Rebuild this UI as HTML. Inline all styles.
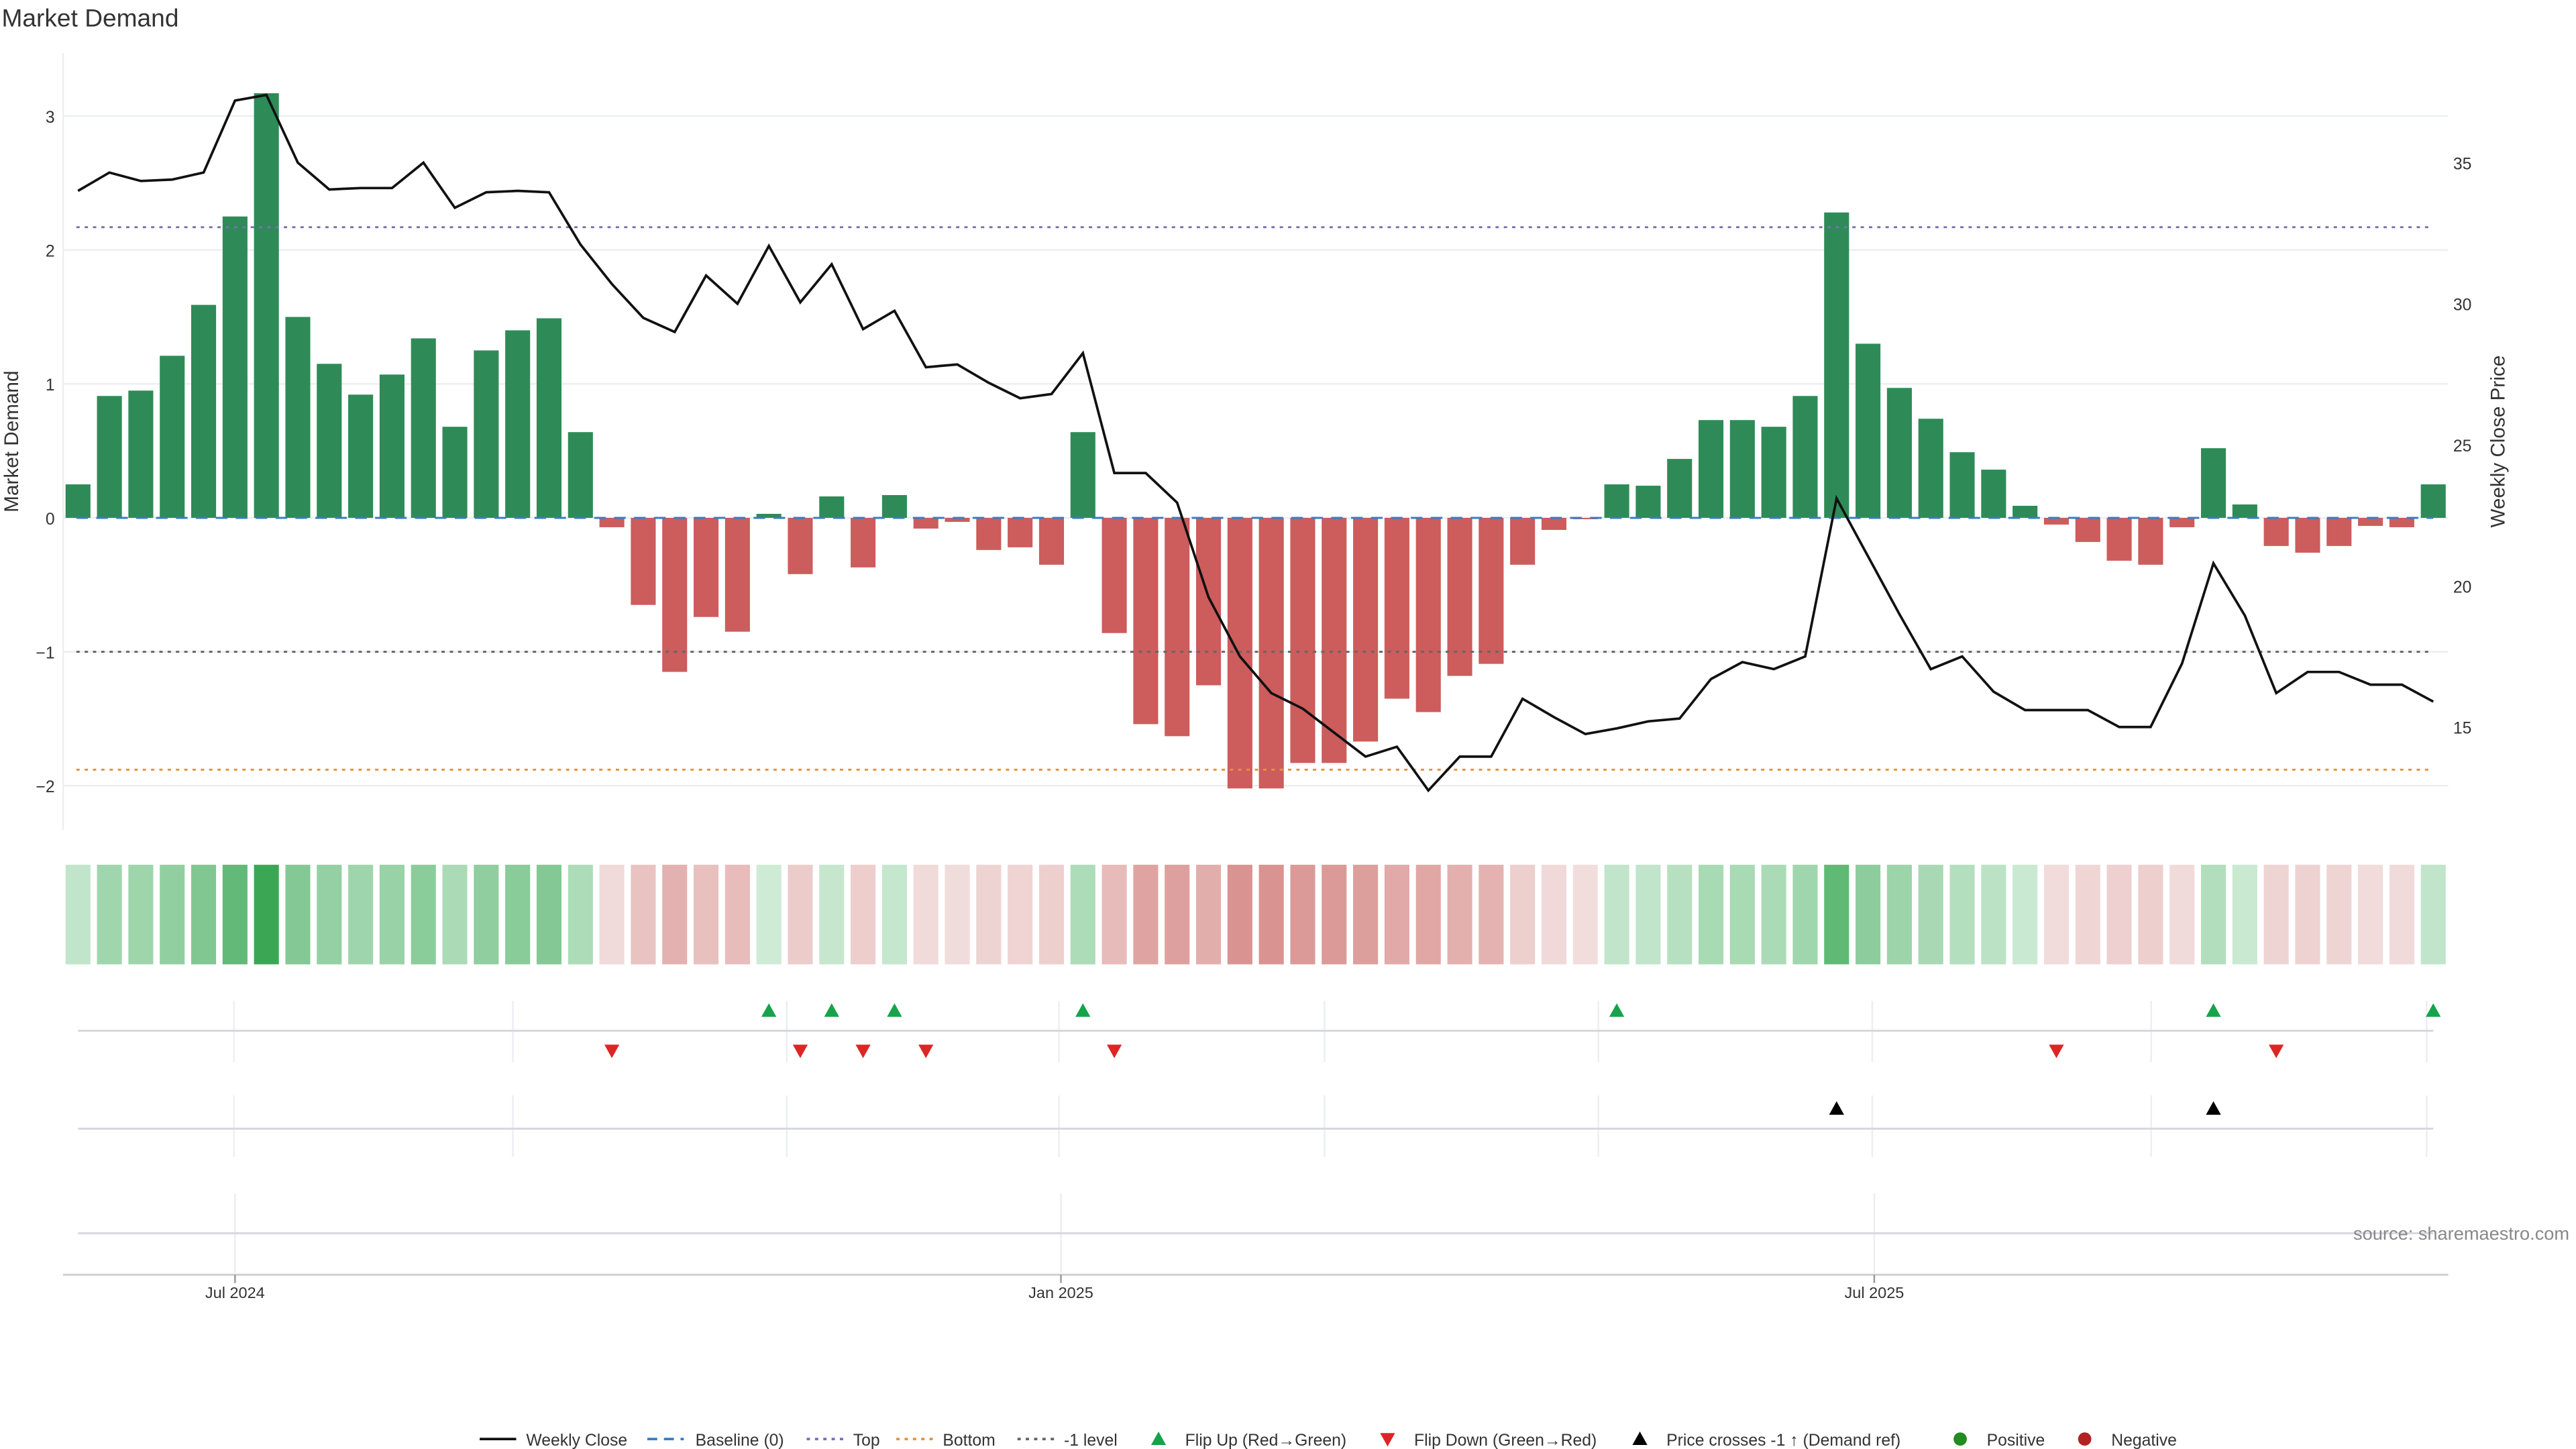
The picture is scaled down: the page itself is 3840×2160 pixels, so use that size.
<!DOCTYPE html>
<html><head><meta charset="utf-8"><style>
html,body{margin:0;padding:0;background:#fff;width:3840px;height:2160px;overflow:hidden}
svg{display:block;font-family:"Liberation Sans","DejaVu Sans",sans-serif}
</style></head><body>
<svg id="chart" width="3840" height="2160" viewBox="0 0 1552 873" xmlns="http://www.w3.org/2000/svg">
<text x="1" y="16" font-size="15" fill="#333">Market Demand</text>
<g id="g"></g>
</svg>
<script>
const demand=[0.25,0.91,0.95,1.21,1.59,2.25,3.17,1.50,1.15,0.92,1.07,1.34,0.68,1.25,1.40,1.49,0.64,-0.07,-0.65,-1.15,-0.74,-0.85,0.03,-0.42,0.16,-0.37,0.17,-0.08,-0.03,-0.24,-0.22,-0.35,0.64,-0.86,-1.54,-1.63,-1.25,-2.02,-2.02,-1.83,-1.83,-1.67,-1.35,-1.45,-1.18,-1.09,-0.35,-0.09,-0.01,0.25,0.24,0.44,0.73,0.73,0.68,0.91,2.28,1.30,0.97,0.74,0.49,0.36,0.09,-0.05,-0.18,-0.32,-0.35,-0.07,0.52,0.10,-0.21,-0.26,-0.21,-0.06,-0.07,0.25];
const price=[34.0,34.65,34.35,34.4,34.65,37.2,37.4,35.0,34.05,34.1,34.1,35.0,33.4,33.95,34.0,33.95,32.1,30.7,29.5,29.0,31.0,30.0,32.05,30.05,31.4,29.1,29.75,27.75,27.85,27.2,26.65,26.8,28.25,24.0,24.0,22.95,19.6,17.5,16.2,15.65,14.8,13.95,14.3,12.75,13.95,13.95,16.0,15.35,14.75,14.95,15.2,15.3,16.7,17.3,17.05,17.5,23.1,21.05,19.0,17.05,17.5,16.25,15.6,15.6,15.6,15.0,15.0,17.25,20.8,18.95,16.2,16.95,16.95,16.5,16.5,15.9];
const crossIdx=[56,68];
const leftTicks=[-2,-1,0,1,2,3];
const rightTicks=[15,20,25,30,35];
const refTop=2.17, refBottom=-1.88, refMinus1=-1;
const dateTicks=[{i:5.0,l:"Jul 2024"},{i:31.3,l:"Jan 2025"},{i:57.2,l:"Jul 2025"}];

const NS="http://www.w3.org/2000/svg", g=document.getElementById('g');
function mk(t,a,p){const e=document.createElementNS(NS,t);for(const k in a)e.setAttribute(k,a[k]);(p||g).appendChild(e);return e;}
const X=i=>47+i*18.92, Y=v=>312-v*80.7, YR=p=>98+(35-p)*17;
const L=38,R=1475;
// gridlines
leftTicks.forEach(t=>{
 const l=mk('line',{x1:L,x2:R,y1:Y(t),y2:Y(t),stroke:'#eceef2','stroke-width':1});
 
 const tx=mk('text',{x:33,y:Y(t)+4,'font-size':10,fill:'#333','text-anchor':'end'});tx.textContent=t<0?'\u2212'+(-t):t;
 
});
rightTicks.forEach(t=>{
 const tx=mk('text',{x:1478,y:YR(t)+4,'font-size':10,fill:'#333'});tx.textContent=t;
 
});
mk('line',{x1:L,x2:L,y1:32,y2:500,stroke:'#eceef2'});
// bars
demand.forEach((v,i)=>{
 const y0=Y(0),y1=Y(v);
 const b=mk('rect',{x:X(i)-7.5,y:Math.min(y0,y1),width:15,height:Math.abs(y1-y0),fill:v>=0?'#2e8b57':'#cd5c5c'});
 
});
// ref lines
function ref(v,c,d,n){const l=mk('line',{x1:L+8,x2:1466,y1:Y(v),y2:Y(v),stroke:c,'stroke-width':1.2,'stroke-dasharray':d});}
ref(refTop,'#7a6fb3','2 3','top-line');
ref(refMinus1,'#666','2 3','minus1-line');
ref(refBottom,'#e8923c','2 3','bottom-line');
ref(0,'#3a7dbf','7 5','baseline-line');
// price line
const pl=mk('polyline',{points:price.map((p,i)=>X(i)+','+YR(p)).join(' '),fill:'none',stroke:'#111','stroke-width':1.5});

// axis titles
let t=mk('text',{x:0,y:0,'font-size':12,fill:'#333','text-anchor':'middle',transform:'translate(11,266) rotate(-90)'});t.textContent='Market Demand';

t=mk('text',{x:0,y:0,'font-size':12,fill:'#333','text-anchor':'middle',transform:'translate(1509,266) rotate(-90)'});t.textContent='Weekly Close Price';

// heatmap
const mx=Math.max(...demand.map(Math.abs));
function mix(a,b,f){return 'rgb('+a.map((c,k)=>Math.round(c+(b[k]-c)*f)).join(',')+')';}
demand.forEach((v,i)=>{
 const f=Math.min(1,Math.abs(v)/mx);
 const c=v>=0?mix([208,236,215],[59,167,85],Math.pow(f,0.9)):mix([242,222,222],[205,110,105],Math.pow(f,0.9));
 const r=mk('rect',{x:X(i)-7.5,y:521,width:15,height:60,fill:c});
 
});
// sub rows
const vgrid=[141,309,474,638,798,963,1128,1296,1462];
vgrid.forEach(x=>{mk('line',{x1:x,x2:x,y1:603,y2:640,stroke:'#eceef2'});mk('line',{x1:x,x2:x,y1:660,y2:697,stroke:'#eceef2'});});
dateTicks.forEach(d=>mk('line',{x1:X(d.i),x2:X(d.i),y1:719,y2:767,stroke:'#eceef2'}));
[621,680,743].forEach(y=>{const l=mk('line',{x1:47,x2:1466,y1:y,y2:y,stroke:'#d6d8dc','stroke-width':1.2});});
function tri(x,y,up,c,n){const s=4.5;const p=up?`${x},${y-s} ${x-s},${y+s*0.8} ${x+s},${y+s*0.8}`:`${x},${y+s} ${x-s},${y-s*0.8} ${x+s},${y-s*0.8}`;const e=mk('polygon',{points:p,fill:c});}
for(let i=1;i<demand.length;i++){
 if(demand[i-1]<0&&demand[i]>=0)tri(X(i),609,true,'#16a34a','flip-up-marker');
 if(demand[i-1]>=0&&demand[i]<0)tri(X(i),633,false,'#dc2626','flip-down-marker');
}
crossIdx.forEach(i=>tri(X(i),668,true,'#000','price-cross-marker'));
// x axis
mk('line',{x1:L,x2:R,y1:768,y2:768,stroke:'#d0d0d0','stroke-width':1.2});
dateTicks.forEach(d=>{mk('line',{x1:X(d.i),x2:X(d.i),y1:768,y2:773,stroke:'#999'});
 const tx=mk('text',{x:X(d.i),y:782,'font-size':9.5,fill:'#333','text-anchor':'middle'});tx.textContent=d.l;
 });
t=mk('text',{x:1548,y:747,'font-size':11,fill:'#888','text-anchor':'end'});t.textContent='source: sharemaestro.com';

// legend
const lg=mk('g',{});
function ltxt(x,s){const e=mk('text',{x:x,y:871,'font-size':10,fill:'#333'},lg);e.textContent=s;}
function lline(x,c,d){mk('line',{x1:x,x2:x+22,y1:867,y2:867,stroke:c,'stroke-width':1.5,'stroke-dasharray':d},lg);}
lline(289,'#111','');ltxt(317,'Weekly Close');
lline(390,'#3a7dbf','6 4');ltxt(419,'Baseline (0)');
lline(486,'#7a6fb3','2 3');ltxt(514,'Top');
lline(540,'#e8923c','2 3');ltxt(568,'Bottom');
lline(613,'#666','2 3');ltxt(641,'-1 level');
function ltri(x,up,c){const s=4.5,y=867;mk('polygon',{points:up?`${x},${y-s} ${x-s},${y+s*0.8} ${x+s},${y+s*0.8}`:`${x},${y+s} ${x-s},${y-s*0.8} ${x+s},${y-s*0.8}`,fill:c},lg);}
ltri(698,true,'#16a34a');ltxt(714,'Flip Up (Red\u2192Green)');
ltri(836,false,'#dc2626');ltxt(852,'Flip Down (Green\u2192Red)');
ltri(988,true,'#000');ltxt(1004,'Price crosses -1 \u2191 (Demand ref)');
mk('circle',{cx:1181,cy:867,r:4,fill:'#228b22'},lg);ltxt(1197,'Positive');
mk('circle',{cx:1256,cy:867,r:4,fill:'#b22222'},lg);ltxt(1272,'Negative');
</script>
</body></html>
